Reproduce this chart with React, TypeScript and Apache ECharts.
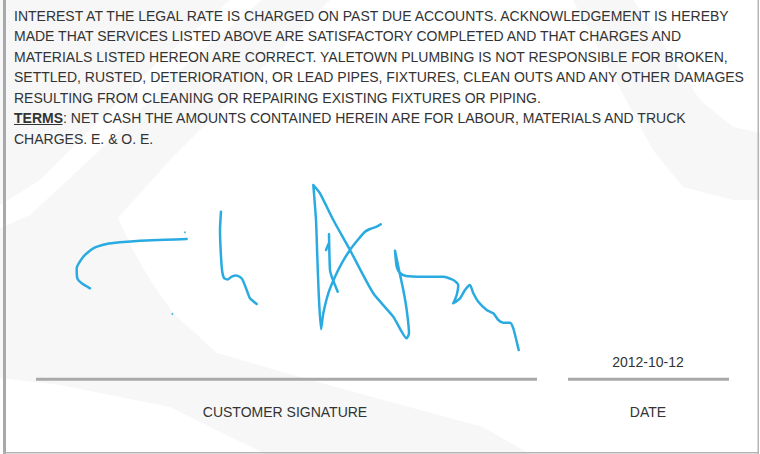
import React, { useEffect, useRef } from "react";
import * as echarts from "echarts";

// ---- texts ----
const termsLines: string[] = [
  "INTEREST AT THE LEGAL RATE IS CHARGED ON PAST DUE ACCOUNTS. ACKNOWLEDGEMENT IS HEREBY",
  "MADE THAT SERVICES LISTED ABOVE ARE SATISFACTORY COMPLETED AND THAT CHARGES AND",
  "MATERIALS LISTED HEREON ARE CORRECT. YALETOWN PLUMBING IS NOT RESPONSIBLE FOR BROKEN,",
  "SETTLED, RUSTED, DETERIORATION, OR LEAD PIPES, FIXTURES, CLEAN OUTS AND ANY OTHER DAMAGES",
  "RESULTING FROM CLEANING OR REPAIRING EXISTING FIXTURES OR PIPING.",
];
const termsBoldWord = "TERMS";
const termsRest = ": NET CASH THE AMOUNTS CONTAINED HEREIN ARE FOR LABOUR, MATERIALS AND TRUCK";
const termsLast = "CHARGES. E. & O. E.";
const dateValue = "2012-10-12";
const signatureLabel = "CUSTOMER SIGNATURE";
const dateLabel = "DATE";

// ---- signature strokes (page pixel coordinates) ----
const strokeCurl: number[][] = [
  [186.7, 239], [165, 239.8], [140, 240.7], [120, 242.3], [106.7, 244], [93.3, 248.3],
  [83.3, 256.7], [76.7, 268.3], [77.3, 278.3], [81.7, 283.3], [90, 288.3],
];
const strokeH: number[][] = [
  [221, 211.7], [220, 230], [221, 256.7], [222.3, 272], [224, 278], [227.5, 279.5],
  [231.7, 276.7], [236, 275.6], [240, 277], [242.7, 280], [246.7, 290], [250, 298.3], [256.7, 304],
];
const strokeZigzag: number[][] = [
  [380.7, 224.3], [376.7, 226.7], [370, 229], [365, 231.7], [358.3, 239.3], [350, 250],
  [341.7, 263.3], [335, 276.7], [328.3, 293.3], [323.3, 313.3], [321, 329.3],
  [318.7, 293.3], [317.3, 256.7], [316, 220], [313.3, 185], [320, 193.3], [333.3, 220],
  [350, 250], [373.3, 293.3], [393.3, 316.7], [406.7, 338.3], [409, 333.3], [406.7, 310],
  [403.3, 290], [399, 270], [395, 250.7], [396.7, 266.7], [400, 273], [406, 276],
  [423.3, 276.7], [443.3, 276.7], [453.3, 280], [458.3, 285], [456.7, 295], [453.3, 303.3],
  [460, 298.3], [465, 290], [470, 285], [473.3, 293.3], [478.3, 301.7], [486.7, 310],
  [493.3, 313.3], [498.3, 320], [503.3, 322.7], [510, 322.7], [513.3, 328.3],
  [516.7, 341.7], [518.7, 350],
];
const strokeSmall: number[][] = [
  [329, 234.3], [329.3, 250], [330, 270], [331.7, 276.7], [335, 285], [337.7, 291.7],
];
const strokeTick: number[][] = [
  [326, 250], [328.5, 244],
];
const inkDots: number[][] = [
  [185, 232.3], [172.3, 314],
];

const FONT = '"Liberation Sans", Arial, Helvetica, sans-serif';
const INK = "#29abe2";
const TEXT = "#333333";
const RULE = "#a9a9ac";
const WATER = "#f7f7f7";

export default function App() {
  const ref = useRef<HTMLDivElement>(null);

  useEffect(() => {
    if (!ref.current) return;
    const chart = echarts.init(ref.current, null, { renderer: "svg" });

    const lineTop = 15.5;
    const lineGap = 20.5;

    const textEls: any[] = termsLines.map((t, i) => ({
      type: "text",
      x: 14,
      y: lineTop + i * lineGap,
      z: 5,
      style: { text: t, fill: TEXT, font: `14px ${FONT}`, textVerticalAlign: "middle" },
    }));
    textEls.push({
      type: "text",
      x: 14,
      y: lineTop + 5 * lineGap,
      z: 5,
      style: {
        text: `{b|${termsBoldWord}}{n|${termsRest}}`,
        fill: TEXT,
        font: `14px ${FONT}`,
        textVerticalAlign: "middle",
        rich: {
          b: { fontWeight: "bold", fontSize: 14, fontFamily: FONT, fill: TEXT },
          n: { fontSize: 14, fontFamily: FONT, fill: TEXT },
        },
      },
    });
    textEls.push({
      type: "text",
      x: 14,
      y: lineTop + 6 * lineGap,
      z: 5,
      style: { text: termsLast, fill: TEXT, font: `14px ${FONT}`, textVerticalAlign: "middle" },
    });

    const strokeSeries = (data: number[][]) => ({
      type: "line",
      data,
      showSymbol: false,
      smooth: 0.2,
      silent: true,
      z: 10,
      lineStyle: { color: INK, width: 2.5, cap: "round", join: "round" },
    });

    chart.setOption({
      animation: false,
      backgroundColor: "#ffffff",
      grid: { left: 0, right: 0, top: 0, bottom: 0, containLabel: false },
      xAxis: { type: "value", min: 0, max: 760, show: false },
      yAxis: { type: "value", min: 0, max: 454, inverse: true, show: false },
      series: [
        strokeSeries(strokeCurl),
        strokeSeries(strokeH),
        strokeSeries(strokeZigzag),
        strokeSeries(strokeSmall),
        strokeSeries(strokeTick),
        {
          type: "scatter",
          data: inkDots,
          symbolSize: 2,
          silent: true,
          z: 10,
          itemStyle: { color: INK },
        },
      ],
      graphic: [
        // watermark swooshes
        {
          type: "polygon",
          z: 0,
          silent: true,
          shape: { points: [[0, 0], [230, 0], [160, 60], [90, 130], [40, 180], [0, 205]] },
          style: { fill: WATER },
        },
        {
          type: "polygon",
          z: 0,
          silent: true,
          shape: {
            points: [
              [262, 0], [330, 0], [250, 80], [170, 160], [118, 218], [133, 250], [150, 280],
              [173, 313], [217, 353], [300, 377], [383, 400], [483, 427], [530, 454],
              [265, 454], [170, 407], [60, 385], [0, 378], [0, 228], [30, 215], [100, 150],
              [180, 70],
            ],
          },
          style: { fill: WATER },
        },
        {
          type: "polygon",
          z: 0,
          silent: true,
          shape: {
            points: [
              [573, 0], [633, 0], [667, 50], [700, 100], [733, 127], [760, 133], [760, 200],
              [733, 200], [683, 187], [653, 150], [617, 83],
            ],
          },
          style: { fill: WATER },
        },
        // borders
        { type: "rect", z: 4, silent: true, shape: { x: 3, y: 0, width: 3, height: 454 }, style: { fill: "#a9a9ac" } },
        { type: "rect", z: 4, silent: true, shape: { x: 757.5, y: 0, width: 1.5, height: 454 }, style: { fill: "#b4b4b6" } },
        { type: "rect", z: 4, silent: true, shape: { x: 3, y: 452, width: 756, height: 1.5 }, style: { fill: "#b4b4b6" } },
        // terms text
        ...textEls,
        // TERMS underline
        {
          type: "line",
          z: 5,
          silent: true,
          shape: { x1: 14, y1: 124.5, x2: 62.5, y2: 124.5 },
          style: { stroke: TEXT, lineWidth: 1 },
        },
        // rules
        {
          type: "line",
          z: 5,
          silent: true,
          shape: { x1: 36, y1: 379.2, x2: 537, y2: 379.2 },
          style: { stroke: RULE, lineWidth: 3 },
        },
        {
          type: "line",
          z: 5,
          silent: true,
          shape: { x1: 568, y1: 379.2, x2: 729, y2: 379.2 },
          style: { stroke: RULE, lineWidth: 3 },
        },
        // labels
        {
          type: "text",
          x: 648,
          y: 361.5,
          z: 5,
          style: { text: dateValue, fill: TEXT, font: `14px ${FONT}`, textAlign: "center", textVerticalAlign: "middle" },
        },
        {
          type: "text",
          x: 285,
          y: 412,
          z: 5,
          style: { text: signatureLabel, fill: TEXT, font: `14px ${FONT}`, textAlign: "center", textVerticalAlign: "middle" },
        },
        {
          type: "text",
          x: 648,
          y: 412,
          z: 5,
          style: { text: dateLabel, fill: TEXT, font: `14px ${FONT}`, textAlign: "center", textVerticalAlign: "middle" },
        },
      ],
    });

    return () => {
      chart.dispose();
    };
  }, []);

  return (
    <div
      ref={ref}
      style={{ position: "absolute", left: 0, top: 0, width: 760, height: 454, background: "#fff" }}
    />
  );
}
